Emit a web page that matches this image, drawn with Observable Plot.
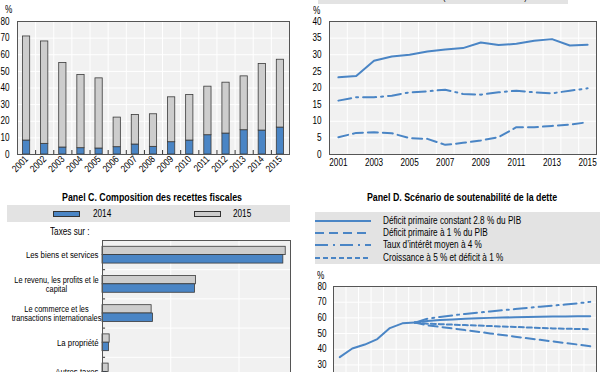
<!DOCTYPE html>
<html><head><meta charset="utf-8">
<script src="https://cdn.jsdelivr.net/npm/d3@7"></script>
<script src="https://cdn.jsdelivr.net/npm/@observablehq/plot@0.6"></script>
<style>
body{margin:0;background:#fff;}
#root{position:relative;width:600px;height:372px;overflow:hidden;font-family:"Liberation Sans Narrow","Arial Narrow","Liberation Sans",Arial,sans-serif;font-size:10px;color:#000;}
.abs{position:absolute;white-space:nowrap;line-height:12px;transform:scaleX(0.82);transform-origin:0 50%;}
.band{position:absolute;background:#e3e3e3;}
.title{position:absolute;font-weight:bold;font-size:10.5px;line-height:12px;white-space:nowrap;transform:translateX(-50%) scaleX(0.84);transform-origin:50% 50%;}
.sw{position:absolute;border:1px solid #333;box-sizing:border-box;}
.panel{position:absolute;}
</style></head><body><div id="root"></div>
<script>
const FONT = '"Liberation Sans Narrow","Arial Narrow","Liberation Sans",Arial,sans-serif';
const BLUE = "#4a85c5", GREY = "#cdcdcd", BG = "#f1f1f1", EDGE = "#3a3a3a", FRAME = "#555";
const CONDENSE = 0.82;

// ---------- Panel A data ----------
const yearsA = [2001,2002,2003,2004,2005,2006,2007,2008,2009,2010,2011,2012,2013,2014,2015];
const debtBlue = [8.4,6.4,4.2,3.8,3.6,4.4,6.0,4.6,7.4,8.4,11.6,12.6,14.6,14.4,16.2];
const debtGrey = [62.6,61.6,50.8,44.0,42.2,17.8,17.8,19.6,27.0,27.4,29.2,30.6,32.4,40.0,40.8];
const yTicksA = [0,10,20,30,40,50,60,70,80];

// ---------- Panel B data ----------
const yearsB = [2001,2002,2003,2004,2005,2006,2007,2008,2009,2010,2011,2012,2013,2014,2015];
const pressionFiscale = [23.2,23.6,28.2,29.5,30.0,31.0,31.6,32.0,33.7,32.9,33.3,34.2,34.7,32.8,33.0];
const serieB2 = [16.2,17.2,17.2,17.7,18.7,19.0,19.5,18.2,18.0,18.7,19.2,18.7,18.4,19.2,19.9];
const serieB3 = [5.2,6.5,6.7,6.4,4.9,4.7,2.9,3.5,4.2,5.2,8.2,8.2,8.6,9.0,9.7];
const xTicksB = [2001,2003,2005,2007,2009,2011,2013,2015];
const yTicksB = [0,5,10,15,20,25,30,35,40];
const legendB = "Pression fiscale (recettes fiscales / PIB)";

// ---------- Panel C data ----------
const categoriesC = ["Les biens et services","Le revenu, les profits et le\ncapital","Le commerce et les\ntransactions internationales","La propriété","Autres taxes"];
const recettes2014 = [53.0,27.1,14.8,1.9,1.2];
const recettes2015 = [53.7,27.4,14.4,2.1,1.8];
const legendC = ["2014","2015"];
const titleC = "Panel C. Composition des recettes fiscales";

// ---------- Panel D data ----------
const yearsHistD = [2010,2011,2012,2013,2014,2015,2016];
const detteHist = [35.0,40.5,43.0,46.5,53.5,56.5,57.0];
const yearsScenD = [2016,2017,2018,2019,2020,2021,2022,2023,2024,2025,2026,2027,2028,2029,2030];
const scenConstant = [57.0,58.0,58.6,59.0,59.4,59.7,60.0,60.2,60.4,60.6,60.7,60.8,60.9,61.0,61.1];
const scenDeficit1 = [57.0,55.3,54.3,53.3,52.2,51.2,50.1,49.1,48.0,47.0,46.0,45.0,44.0,43.0,41.9];
const scenTaux4 = [57.0,59.5,60.6,61.6,62.5,63.3,64.1,64.9,65.6,66.4,67.1,67.8,68.5,69.3,70.2];
const scenCroiss5 = [57.0,56.3,56.0,55.7,55.4,55.1,54.8,54.5,54.2,53.9,53.6,53.3,53.1,52.9,52.8];
const yTicksD = [0,10,20,30,40,50,60,70,80];
const legendD = ["Déficit primaire constant 2.8 % du PIB","Déficit primaire à 1 % du PIB","Taux d’intérêt moyen à 4 %","Croissance à 5 % et déficit à 1 %"];
const dashD = [null,"9,5","13,5,2,5","5,3"];
const titleD = "Panel D. Scénario de soutenabilité de la dette";

const root = document.getElementById("root");
const style = {fontFamily: FONT, fontSize: "10px", background: "transparent", color: "#000", overflow: "visible"};

function condense(svg){
  svg.querySelectorAll("text").forEach(t=>{
    const tr = t.getAttribute("transform") || "";
    t.setAttribute("transform", (tr + " scale(" + CONDENSE + ",1)").trim());
  });
  return svg;
}
function place(el, left, top){ condense(el); const d = document.createElement("div"); d.className="panel"; d.style.left=left+"px"; d.style.top=top+"px"; d.appendChild(el); root.appendChild(d); return d; }
function txt(t, left, cy){ const d=document.createElement("div"); d.className="abs"; d.textContent=t; d.style.left=left+"px"; d.style.top=(cy-6)+"px"; root.appendChild(d); return d; }

// ---------- Panel A ----------
const edgesA = yearsA.slice(0,-1).map(y=>y+0.5);
const plotA = Plot.plot({
  width: 300, height: 190, marginLeft: 17, marginRight: 11, marginTop: 21, marginBottom: 36, style,
  x: {domain: [2000.5, 2015.5], ticks: yearsA, tickFormat: d=>String(d), tickRotate: -45, tickSize: 0, tickPadding: 3, label: null},
  y: {domain: [0,80], ticks: yTicksA, tickSize: 0, tickPadding: 8, label: null},
  marks: [
    Plot.frame({fill: BG}),
    Plot.ruleY(yTicksA.slice(1,-1), {stroke: "#fff"}),
    Plot.ruleX(edgesA, {stroke: "#fff"}),
    Plot.rectY(yearsA, {x1: d=>d-0.2, x2: d=>d+0.2, y1: 0, y2: (d,i)=>debtBlue[i], fill: BLUE, stroke: EDGE, strokeWidth: 0.8}),
    Plot.rectY(yearsA, {x1: d=>d-0.2, x2: d=>d+0.2, y1: (d,i)=>debtBlue[i], y2: (d,i)=>debtBlue[i]+debtGrey[i], fill: GREY, stroke: EDGE, strokeWidth: 0.8}),
    Plot.ruleX(edgesA, {y1: 0, y2: 2.4, stroke: "#333"}),
    Plot.frame({stroke: FRAME})
  ]
});
place(plotA, 0, 0);
txt("%", 5, 10);

// ---------- Panel B ----------
const edgesB = yearsB.slice(0,-1).map(y=>y+0.5);
const plotB = Plot.plot({
  width: 300, height: 190, marginLeft: 29, marginRight: 4, marginTop: 21, marginBottom: 36, style,
  x: {domain: [2000.5, 2015.5], ticks: xTicksB, tickFormat: d=>String(d), tickSize: 0, tickPadding: 4, label: null},
  y: {domain: [0,40], ticks: yTicksB, tickSize: 0, tickPadding: 8, label: null},
  marks: [
    Plot.frame({fill: BG}),
    Plot.ruleY(yTicksB.slice(1,-1), {stroke: "#fff"}),
    Plot.ruleX(edgesB, {stroke: "#fff"}),
    Plot.line(yearsB, {x: d=>d, y: (d,i)=>pressionFiscale[i], stroke: BLUE, strokeWidth: 2}),
    Plot.line(yearsB, {x: d=>d, y: (d,i)=>serieB2[i], stroke: BLUE, strokeWidth: 2, strokeDasharray: "13,5,2,5"}),
    Plot.line(yearsB, {x: d=>d, y: (d,i)=>serieB3[i], stroke: BLUE, strokeWidth: 2, strokeDasharray: "10,5"}),
    Plot.frame({stroke: FRAME})
  ]
});
place(plotB, 300, 0);
const bandB = document.createElement("div"); bandB.className="band"; Object.assign(bandB.style,{left:"318px",top:"-10px",width:"250px",height:"14px"}); root.appendChild(bandB);
txt(legendB, 383, -3);
txt("%", 313, 11);

// ---------- Panel C ----------
const tC = document.createElement("div"); tC.className="title"; tC.textContent=titleC; tC.style.left="152px"; tC.style.top="191px"; root.appendChild(tC);
const bandC = document.createElement("div"); bandC.className="band"; Object.assign(bandC.style,{left:"7px",top:"205px",width:"283px",height:"17px"}); root.appendChild(bandC);
const sw1 = document.createElement("div"); sw1.className="sw"; Object.assign(sw1.style,{left:"53px",top:"211px",width:"27px",height:"6px",background:BLUE}); root.appendChild(sw1);
const sw2 = document.createElement("div"); sw2.className="sw"; Object.assign(sw2.style,{left:"194px",top:"211px",width:"27px",height:"6px",background:GREY}); root.appendChild(sw2);
txt(legendC[0], 93, 214);
txt(legendC[1], 233, 214);
txt("Taxes sur :", 50, 232);
const edgesC = [0.5,1.5,2.5,3.5];
const plotC = Plot.plot({
  width: 300, height: 176, marginLeft: 102, marginRight: 10, marginTop: 10, marginBottom: 20, style,
  x: {domain: [0, 55.1], axis: null},
  y: {domain: [-0.5, 4.5], reverse: true, axis: null},
  marks: [
    Plot.frame({fill: BG}),
    Plot.ruleX([20,40], {stroke: "#fff"}),
    Plot.ruleY(edgesC, {stroke: "#fff"}),
    Plot.rectX(categoriesC, {y1: (d,i)=>i-0.285, y2: (d,i)=>i, x1: 0, x2: (d,i)=>recettes2015[i], fill: GREY, stroke: EDGE, strokeWidth: 0.8}),
    Plot.rectX(categoriesC, {y1: (d,i)=>i, y2: (d,i)=>i+0.29, x1: 0, x2: (d,i)=>recettes2014[i], fill: BLUE, stroke: EDGE, strokeWidth: 0.8}),
    Plot.ruleY(edgesC, {x1: 0, x2: 0.9, stroke: "#333"}),
    Plot.text(categoriesC, {filter: d=>!d.includes("\n"), x: ()=>0, y: (d,i)=>i, text: d=>d, textAnchor: "end", dx: -4, fontSize: 9.5, fill: "#000"}),
    Plot.text(categoriesC, {filter: d=>d.includes("\n"), x: ()=>0, y: (d,i)=>i, text: d=>d, textAnchor: "middle", dx: -46, fontSize: 9, lineHeight: 1.08, fill: "#000"}),
    Plot.frame({stroke: FRAME})
  ]
});
place(plotC, 0, 230);

// ---------- Panel D ----------
const tD = document.createElement("div"); tD.className="title"; tD.textContent=titleD; tD.style.left="462px"; tD.style.top="191px"; root.appendChild(tD);
const bandD = document.createElement("div"); bandD.className="band"; Object.assign(bandD.style,{left:"315px",top:"212px",width:"285px",height:"52px"}); root.appendChild(bandD);
const rowsY = [221,233,245,258];
legendD.forEach((lab,k)=>{
  const ns="http://www.w3.org/2000/svg";
  const s=document.createElementNS(ns,"svg"); s.setAttribute("width","56"); s.setAttribute("height","6");
  s.style.position="absolute"; s.style.left="315px"; s.style.top=(rowsY[k]-3)+"px";
  const l=document.createElementNS(ns,"line"); l.setAttribute("x1","0"); l.setAttribute("x2","56"); l.setAttribute("y1","3"); l.setAttribute("y2","3");
  l.setAttribute("stroke",BLUE); l.setAttribute("stroke-width","2"); if(dashD[k]) l.setAttribute("stroke-dasharray",dashD[k]);
  s.appendChild(l); root.appendChild(s);
  txt(lab, 383, rowsY[k]);
});
const edgesD = d3.range(2010.5, 2030, 1);
const plotD = Plot.plot({
  width: 300, height: 162, marginLeft: 33, marginRight: 4, marginTop: 16, marginBottom: 20.5, style,
  x: {domain: [2009.5, 2030.5], axis: null},
  y: {domain: [0,80], ticks: yTicksD, tickSize: 0, tickPadding: 7, label: null},
  marks: [
    Plot.frame({fill: BG}),
    Plot.ruleY(yTicksD.slice(1,-1), {stroke: "#fff"}),
    Plot.ruleX(edgesD, {stroke: "#fff"}),
    Plot.line(yearsHistD, {x: d=>d, y: (d,i)=>detteHist[i], stroke: BLUE, strokeWidth: 2}),
    Plot.line(yearsScenD, {x: d=>d, y: (d,i)=>scenConstant[i], stroke: BLUE, strokeWidth: 2}),
    Plot.line(yearsScenD, {x: d=>d, y: (d,i)=>scenDeficit1[i], stroke: BLUE, strokeWidth: 2, strokeDasharray: dashD[1]}),
    Plot.line(yearsScenD, {x: d=>d, y: (d,i)=>scenTaux4[i], stroke: BLUE, strokeWidth: 2, strokeDasharray: dashD[2]}),
    Plot.line(yearsScenD, {x: d=>d, y: (d,i)=>scenCroiss5[i], stroke: BLUE, strokeWidth: 2, strokeDasharray: dashD[3]}),
    Plot.frame({stroke: FRAME})
  ]
});
place(plotD, 300, 270);
txt("%", 317, 276);
</script></body></html>
